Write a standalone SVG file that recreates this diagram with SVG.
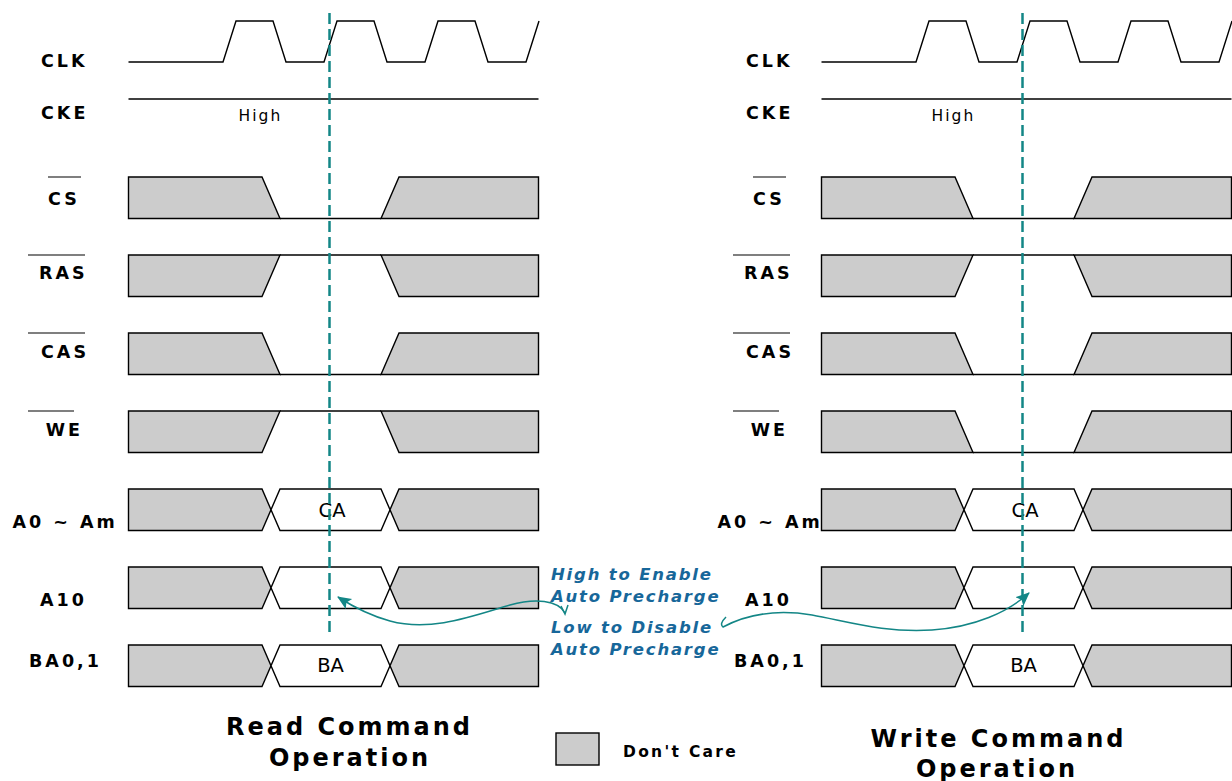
<svg xmlns="http://www.w3.org/2000/svg" width="1232" height="781" viewBox="0 0 1232 781">
<defs>
<style>
.w{fill:none;stroke:#000;stroke-width:1.4}
.g{fill:#cccccc;stroke:#000;stroke-width:1.4;stroke-linejoin:miter}
.c{fill:#fff;stroke:#000;stroke-width:1.4}
.lb{font-family:"DejaVu Sans",Verdana,sans-serif;font-weight:bold;font-size:17.5px;letter-spacing:3px;fill:#000}
.ov{stroke:#000;stroke-width:1.2}
.rg{font-family:"DejaVu Sans",Verdana,sans-serif;font-size:15.5px;letter-spacing:2px;fill:#000}
.cell{font-family:"DejaVu Sans",Verdana,sans-serif;font-size:19.5px;fill:#000;text-anchor:middle}
.tt{font-family:"DejaVu Sans",Verdana,sans-serif;font-weight:bold;font-size:24px;letter-spacing:3px;fill:#000;text-anchor:middle}
.an{font-family:"DejaVu Sans",Verdana,sans-serif;font-weight:bold;font-style:italic;font-size:16.5px;letter-spacing:1.8px;fill:#17679a}
.dl{stroke:#138686;stroke-width:2.5;stroke-dasharray:11 5;fill:none}
.ar{fill:none;stroke:#138686;stroke-width:1.5}
</style>
<marker id="ah" markerUnits="userSpaceOnUse" markerWidth="16" markerHeight="14" refX="13" refY="6" orient="auto">
<path d="M0,0 L14,6 L0,12 L3,6 Z" fill="#138686"/>
</marker>
</defs>
<rect width="1232" height="781" fill="#fff"/>

<!-- ===== Read panel labels ===== -->
<g id="read-labels">
<text class="lb" x="41" y="67">CLK</text>
<text class="lb" x="41" y="118.5">CKE</text>
<text class="lb" x="48" y="204.5">CS</text><line class="ov" x1="48" y1="177" x2="81" y2="177"/>
<text class="lb" x="39" y="279">RAS</text><line class="ov" x1="28" y1="255" x2="85" y2="255"/>
<text class="lb" x="41" y="357.5">CAS</text><line class="ov" x1="28" y1="333" x2="85" y2="333"/>
<text class="lb" x="45.7" y="436">WE</text><line class="ov" x1="28" y1="411" x2="74" y2="411"/>
<text class="lb" x="12.5" y="527.5">A0 ~ Am</text>
<text class="lb" x="40" y="606">A10</text>
<text class="lb" x="29" y="666.5">BA0,1</text>
</g>

<!-- ===== Read panel waveforms ===== -->
<g id="read-clk"><path class="w" d="M128.5 62 H223 L236 21 H273 L286 62 H324 L337 21 H374 L387 62 H425 L438 21 H475 L488 62 H526 L539 21"/></g>
<g id="read-cke"><path class="w" d="M128.5 99 H538.5"/><text class="rg" x="238.6" y="120.5">High</text></g>
<g id="read-cs">
<polygon class="g" points="128.5,177 262,177 280,218.5 128.5,218.5"/>
<path class="w" d="M280 218.5 H381"/>
<polygon class="g" points="381,218.5 399,177 538.5,177 538.5,218.5"/>
</g>
<g id="read-ras">
<polygon class="g" points="128.5,255 280,255 262,296.5 128.5,296.5"/>
<path class="w" d="M280 255 H381"/>
<polygon class="g" points="381,255 538.5,255 538.5,296.5 399,296.5"/>
</g>
<g id="read-cas">
<polygon class="g" points="128.5,333 262,333 280,374.5 128.5,374.5"/>
<path class="w" d="M280 374.5 H381"/>
<polygon class="g" points="381,374.5 399,333 538.5,333 538.5,374.5"/>
</g>
<g id="read-we">
<polygon class="g" points="128.5,411 280,411 262,452.5 128.5,452.5"/>
<path class="w" d="M280 411 H381"/>
<polygon class="g" points="381,411 538.5,411 538.5,452.5 399,452.5"/>
</g>
<g id="read-a0">
<polygon class="g" points="128.5,489 262,489 271,509.75 262,530.5 128.5,530.5"/>
<polygon class="c" points="280,489 381,489 390,509.75 381,530.5 280,530.5 271,509.75"/>
<polygon class="g" points="399,489 538.5,489 538.5,530.5 399,530.5 390,509.75"/>
<text class="cell" x="332" y="516.5">CA</text>
</g>
<g id="read-a10">
<polygon class="g" points="128.5,567 262,567 271,587.75 262,608.5 128.5,608.5"/>
<polygon class="c" points="280,567 381,567 390,587.75 381,608.5 280,608.5 271,587.75"/>
<polygon class="g" points="399,567 538.5,567 538.5,608.5 399,608.5 390,587.75"/>
</g>
<g id="read-ba">
<polygon class="g" points="128.5,645 262,645 271,665.75 262,686.5 128.5,686.5"/>
<polygon class="c" points="280,645 381,645 390,665.75 381,686.5 280,686.5 271,665.75"/>
<polygon class="g" points="399,645 538.5,645 538.5,686.5 399,686.5 390,665.75"/>
<text class="cell" x="330.5" y="671.5">BA</text>
</g>

<!-- ===== Write panel labels ===== -->
<g id="write-labels" transform="translate(705,0)">
<text class="lb" x="41" y="67">CLK</text>
<text class="lb" x="41" y="118.5">CKE</text>
<text class="lb" x="48" y="204.5">CS</text><line class="ov" x1="48" y1="177" x2="81" y2="177"/>
<text class="lb" x="39" y="279">RAS</text><line class="ov" x1="28" y1="255" x2="85" y2="255"/>
<text class="lb" x="41" y="357.5">CAS</text><line class="ov" x1="28" y1="333" x2="85" y2="333"/>
<text class="lb" x="45.7" y="436">WE</text><line class="ov" x1="28" y1="411" x2="74" y2="411"/>
<text class="lb" x="12.5" y="527.5">A0 ~ Am</text>
<text class="lb" x="40" y="606">A10</text>
<text class="lb" x="29" y="666.5">BA0,1</text>
</g>

<!-- ===== Write panel waveforms ===== -->
<g transform="translate(693,0)">
<g id="write-clk"><path class="w" d="M128.5 62 H223 L236 21 H273 L286 62 H324 L337 21 H374 L387 62 H425 L438 21 H475 L488 62 H526 L539 21"/></g>
<g id="write-cke"><path class="w" d="M128.5 99 H538.5"/><text class="rg" x="238.6" y="120.5">High</text></g>
<g id="write-cs">
<polygon class="g" points="128.5,177 262,177 280,218.5 128.5,218.5"/>
<path class="w" d="M280 218.5 H381"/>
<polygon class="g" points="381,218.5 399,177 538.5,177 538.5,218.5"/>
</g>
<g id="write-ras">
<polygon class="g" points="128.5,255 280,255 262,296.5 128.5,296.5"/>
<path class="w" d="M280 255 H381"/>
<polygon class="g" points="381,255 538.5,255 538.5,296.5 399,296.5"/>
</g>
<g id="write-cas">
<polygon class="g" points="128.5,333 262,333 280,374.5 128.5,374.5"/>
<path class="w" d="M280 374.5 H381"/>
<polygon class="g" points="381,374.5 399,333 538.5,333 538.5,374.5"/>
</g>
<g id="write-we">
<polygon class="g" points="128.5,411 262,411 280,452.5 128.5,452.5"/>
<path class="w" d="M280 452.5 H381"/>
<polygon class="g" points="381,452.5 399,411 538.5,411 538.5,452.5"/>
</g>
<g id="write-a0">
<polygon class="g" points="128.5,489 262,489 271,509.75 262,530.5 128.5,530.5"/>
<polygon class="c" points="280,489 381,489 390,509.75 381,530.5 280,530.5 271,509.75"/>
<polygon class="g" points="399,489 538.5,489 538.5,530.5 399,530.5 390,509.75"/>
<text class="cell" x="332" y="516.5">CA</text>
</g>
<g id="write-a10">
<polygon class="g" points="128.5,567 262,567 271,587.75 262,608.5 128.5,608.5"/>
<polygon class="c" points="280,567 381,567 390,587.75 381,608.5 280,608.5 271,587.75"/>
<polygon class="g" points="399,567 538.5,567 538.5,608.5 399,608.5 390,587.75"/>
</g>
<g id="write-ba">
<polygon class="g" points="128.5,645 262,645 271,665.75 262,686.5 128.5,686.5"/>
<polygon class="c" points="280,645 381,645 390,665.75 381,686.5 280,686.5 271,665.75"/>
<polygon class="g" points="399,645 538.5,645 538.5,686.5 399,686.5 390,665.75"/>
<text class="cell" x="330.5" y="671.5">BA</text>
</g>
</g>

<!-- ===== Connectors / markers ===== -->
<g id="connectors">
<line class="dl" x1="329.5" y1="13" x2="329.5" y2="634"/>
<line class="dl" x1="1022.5" y1="13" x2="1022.5" y2="634"/>
<path class="ar" d="M565 613 C 558 600, 535 598, 510 605 C 470 617, 430 632, 390 621 C 368 615, 352 606, 338 597" marker-end="url(#ah)"/>
<path class="ar" d="M561 606 L565 614 L568 605"/>
<path class="ar" d="M726 617 Q 719 624, 723 627 C 740 618, 770 608, 812 615 C 850 622, 885 633, 932 630 C 975 627, 1008 612, 1029 593" marker-end="url(#ah)"/>
</g>

<!-- ===== Annotation ===== -->
<g id="annotation">
<text class="an" x="551" y="580">High to Enable</text>
<text class="an" x="551" y="602">Auto Precharge</text>
<text class="an" x="551" y="633">Low to Disable</text>
<text class="an" x="551" y="655">Auto Precharge</text>
</g>

<!-- ===== Titles & legend ===== -->
<g id="title-read">
<text class="tt" x="349.5" y="735">Read Command</text>
<text class="tt" x="350" y="766">Operation</text>
</g>
<g id="title-write">
<text class="tt" x="998.5" y="747">Write Command</text>
<text class="tt" x="997" y="777">Operation</text>
</g>
<g id="legend">
<rect x="556" y="733" width="43" height="32" class="g"/>
<text x="623" y="757" style="font-family:'DejaVu Sans',Verdana,sans-serif;font-weight:bold;font-size:15.5px;letter-spacing:2.3px">Don't Care</text>
</g>
</svg>
